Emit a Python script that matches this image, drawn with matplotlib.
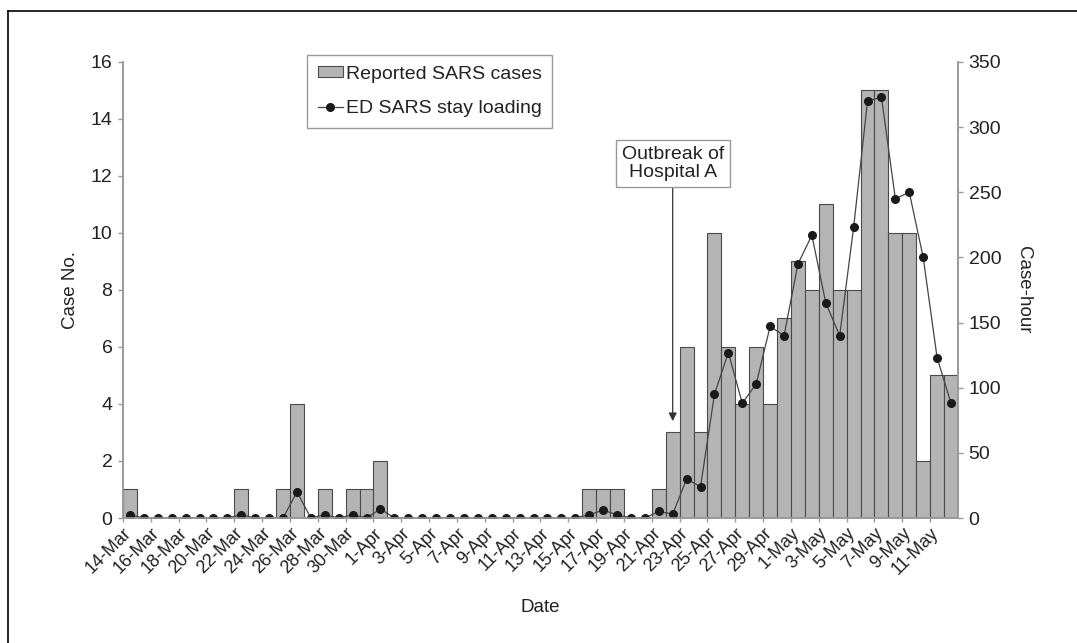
import matplotlib
matplotlib.use("Agg")
import matplotlib.pyplot as plt
import pandas as pd

plt.rcParams['font.family'] = ['Liberation Sans', 'DejaVu Sans']

# dnevni podaci 14-Mar .. 12-May
dani = pd.date_range("2003-03-14", "2003-05-12")
oznake = [f"{d.day}-{d.strftime('%b')}" for d in dani]

slucajevi = [1, 0, 0, 0, 0, 0, 0, 0, 1, 0, 0, 1, 4, 0, 1, 0, 1, 1, 2, 0,
             0, 0, 0, 0, 0, 0, 0, 0, 0, 0, 0, 0, 0, 1, 1, 1, 0, 0, 1, 3,
             6, 3, 10, 6, 4, 6, 4, 7, 9, 8, 11, 8, 8, 15, 15, 10, 10, 2, 5, 5]

sati = [2.5, 0, 0, 0, 0, 0, 0, 0, 2.5, 0, 0, 0, 20, 0, 2.5, 0, 2.5, 0, 7, 0,
        0, 0, 0, 0, 0, 0, 0, 0, 0, 0, 0, 0, 0, 2.5, 6, 2.5, 0, 0, 5, 3,
        30, 24, 95, 127, 88, 103, 147, 140, 195, 217, 165, 140, 223, 320, 323, 245, 250, 200, 123, 88]

siva = '#9a9a9a'
tekst = '#222222'

fig = plt.figure(figsize=(10.77, 6.43), dpi=100)
ax = fig.add_axes([0.1142, 0.1944, 0.7753, 0.7092])
ax2 = ax.twinx()

x = list(range(len(dani)))
bars = ax.bar(x, slucajevi, width=1.0, color='#b4b4b4', edgecolor='#4a4a4a', linewidth=0.8,
              label='Reported SARS cases')
linija, = ax2.plot(x, sati, color='#444444', linewidth=0.9, marker='o', markersize=5.5,
                   markerfacecolor='#1a1a1a', markeredgecolor='#1a1a1a', label='ED SARS stay loading')

ax.set_xlim(-0.5, len(dani) - 0.5)
ax.set_ylim(0, 16)
ax2.set_ylim(0, 350)
ax.set_yticks(range(0, 17, 2))
ax2.set_yticks(range(0, 351, 50))

ticks = [i - 0.5 for i in x[::2]]
ax.set_xticks(ticks)
ax.set_xticklabels(oznake[::2], rotation=45, ha='right', va='top', rotation_mode='anchor')

for a in (ax, ax2):
    a.spines['top'].set_visible(False)
    for s in ('left', 'right', 'bottom'):
        a.spines[s].set_color(siva)
        a.spines[s].set_linewidth(1.2)
    a.tick_params(colors=siva, labelcolor=tekst, labelsize=14, length=3.6, width=1, pad=4)
ax.tick_params(axis='x', labelsize=13, length=3, pad=2)

ax.set_ylabel('Case No.', fontsize=13.5, color=tekst, labelpad=8)
ax2.set_ylabel('Case-hour', fontsize=13.5, color=tekst, rotation=270, labelpad=22)
ax.set_xlabel('Date', fontsize=13.5, color=tekst, labelpad=15)

ax.annotate('Outbreak of\nHospital A', xy=(39, 3.4), xytext=(39, 12.45), ha='center', va='center',
            fontsize=14, color=tekst, linespacing=1.1,
            bbox=dict(boxstyle='square,pad=0.3', fc='white', ec=siva, lw=1),
            arrowprops=dict(arrowstyle='-|>', color='#333333', lw=0.9, shrinkA=0, shrinkB=0,
                            mutation_scale=12))

leg = ax2.legend([bars, linija], ['Reported SARS cases', 'ED SARS stay loading'],
                 loc='upper left', bbox_to_anchor=(307 / 1077, 1 - 55 / 643),
                 bbox_transform=fig.transFigure, borderaxespad=0, fontsize=14, fancybox=False,
                 edgecolor=siva, framealpha=1, handlelength=1.3, handleheight=0.5,
                 handletextpad=0.15, borderpad=0.55, labelspacing=0.9)
leg.get_frame().set_linewidth(1)
for t in leg.get_texts():
    t.set_color(tekst)

# okvir slike (samo gore i lijevo)
fig.add_artist(plt.Line2D([8 / 1077, 8 / 1077], [0, 1 - 11 / 643], color='black', lw=1.2))
fig.add_artist(plt.Line2D([8 / 1077, 1], [1 - 11 / 643, 1 - 11 / 643], color='black', lw=1.2))

fig.savefig('out.png', dpi=100)
